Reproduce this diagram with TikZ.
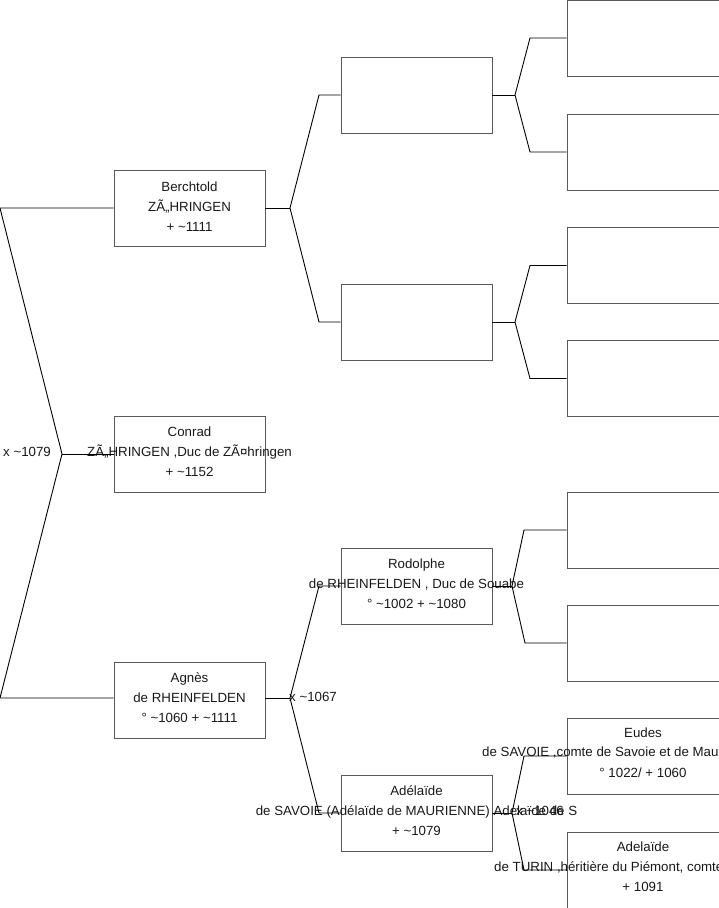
\documentclass[tikz,border=0pt]{standalone}
\usepackage{fontspec}
\setmainfont{Liberation Sans}
\begin{document}
\begin{tikzpicture}[x=1bp,y=-1bp,
  box/.style={draw=black!65,line width=0.9bp,rectangle,minimum width=151bp,minimum height=76bp,inner sep=0pt},
  txt/.style={align=center,inner sep=0pt,font=\fontsize{13.3bp}{20bp}\selectfont,text=black!90},
  lbl/.style={anchor=west,inner sep=0pt,font=\fontsize{13.3bp}{16bp}\selectfont,text=black!90},
  con/.style={draw=black,line width=0.9bp}]
\fill[white] (0,0) rectangle (719,908);
\useasboundingbox (0,0) rectangle (719,908);
% column 1
\node[box] (berch) at (189.5,208.5) {};
\node[box] (conrad) at (189.5,454) {};
\node[box] (agnes) at (189.5,700) {};
% column 2
\node[box] (b1) at (416.5,95) {};
\node[box] (b2) at (416.5,322) {};
\node[box] (rod) at (416.5,586) {};
\node[box] (adel) at (416.5,813) {};
% column 3
\node[box,minimum width=152bp] (c1) at (643,38) {};
\node[box,minimum width=152bp] (c2) at (643,152) {};
\node[box,minimum width=152bp] (c3) at (643,265.5) {};
\node[box,minimum width=152bp] (c4) at (643,378.5) {};
\node[box,minimum width=152bp] (c5) at (643,530) {};
\node[box,minimum width=152bp] (c6) at (643,643) {};
\node[box,minimum width=152bp] (c7) at (643,756) {};
\node[box,minimum width=152bp] (c8) at (643,870) {};
% texts
\node[txt] (tberch) at ([yshift=2bp]berch.center) {Berchtold\\ZÃ„HRINGEN\\+ \textasciitilde1111};
\node[txt] (tconrad) at ([yshift=2bp]conrad.center) {Conrad\\ZÃ„HRINGEN ,Duc de ZÃ¤hringen\\+ \textasciitilde1152};
\node[txt] (tagnes) at ([yshift=2bp]agnes.center) {Agnès\\de RHEINFELDEN\\° \textasciitilde1060 + \textasciitilde1111};
\node[txt] (trod) at ([yshift=2bp]rod.center) {Rodolphe\\de RHEINFELDEN , Duc de Souabe\\° \textasciitilde1002 + \textasciitilde1080};
\node[txt] (tadel) at ([yshift=2bp]adel.center) {Adélaïde\\de SAVOIE (Adélaïde de MAURIENNE)  Adelaïde de S\\+ \textasciitilde1079};
\node[txt] (teud1) at (643,733) {Eudes};
\node[lbl] (teud2) at (482,753) {de SAVOIE ,comte de Savoie et de Mau};
\node[txt] (teud3) at (643,773) {° 1022/ + 1060};
\node[txt] (tad1) at (643,847) {Adelaïde};
\node[lbl] (tad2) at (494,867) {de TURIN ,héritière du Piémont, comte};
\node[txt] (tad3) at (643,887) {+ 1091};
% marriage labels
\node[lbl] (m1) at (3,452) {x \textasciitilde1079};
\node[lbl] (m2) at (289,697) {x \textasciitilde1067};
\node[lbl] (m3) at (516,811) {x \textasciitilde1046};
% connectors
\coordinate (L1) at (0,208);
\coordinate (L2) at (62,454);
\coordinate (L3) at (0,698);
\path[con] (berch.west |- L1) -- (L1) -- (L2) -- (L3) -- (agnes.west |- L3);
\path[con] (L2) -- (conrad.west);
% Berchtold -> b1,b2
\coordinate (j1) at (290,208);
\coordinate (j1a) at (319,95);
\coordinate (j1b) at (319,322);
\path[con] (berch.east |- j1) -- (j1);
\path[con] (b1.west) -- (j1a) -- (j1) -- (j1b) -- (b2.west);
% Agnes -> rod, adel
\coordinate (j2) at (290,698);
\coordinate (j2a) at (319,586);
\coordinate (j2b) at (319,813);
\path[con] (agnes.east |- j2) -- (j2);
\path[con] (rod.west) -- (j2a) -- (j2) -- (j2b) -- (adel.west);
% b1 -> c1,c2
\coordinate (k1) at (515,95);
\coordinate (k1a) at (530,38);
\coordinate (k1b) at (530,152);
\path[con] (b1.east) -- (k1);
\path[con] (c1.west) -- (k1a) -- (k1) -- (k1b) -- (c2.west);
% b2 -> c3,c4
\coordinate (k2) at (515,322);
\coordinate (k2a) at (530,265.5);
\coordinate (k2b) at (530,378.5);
\path[con] (b2.east) -- (k2);
\path[con] (c3.west) -- (k2a) -- (k2) -- (k2b) -- (c4.west);
% rod -> c5,c6
\coordinate (k3) at (512,586);
\coordinate (k3a) at (524,530);
\coordinate (k3b) at (525,643);
\path[con] (rod.east) -- (k3);
\path[con] (c5.west) -- (k3a) -- (k3) -- (k3b) -- (c6.west);
% adel -> c7,c8
\coordinate (k4) at (512,813);
\coordinate (k4a) at (524,756);
\coordinate (k4b) at (524,870);
\path[con] (adel.east) -- (k4);
\path[con] (c7.west) -- (k4a) -- (k4) -- (k4b) -- (c8.west);
\end{tikzpicture}
\end{document}
